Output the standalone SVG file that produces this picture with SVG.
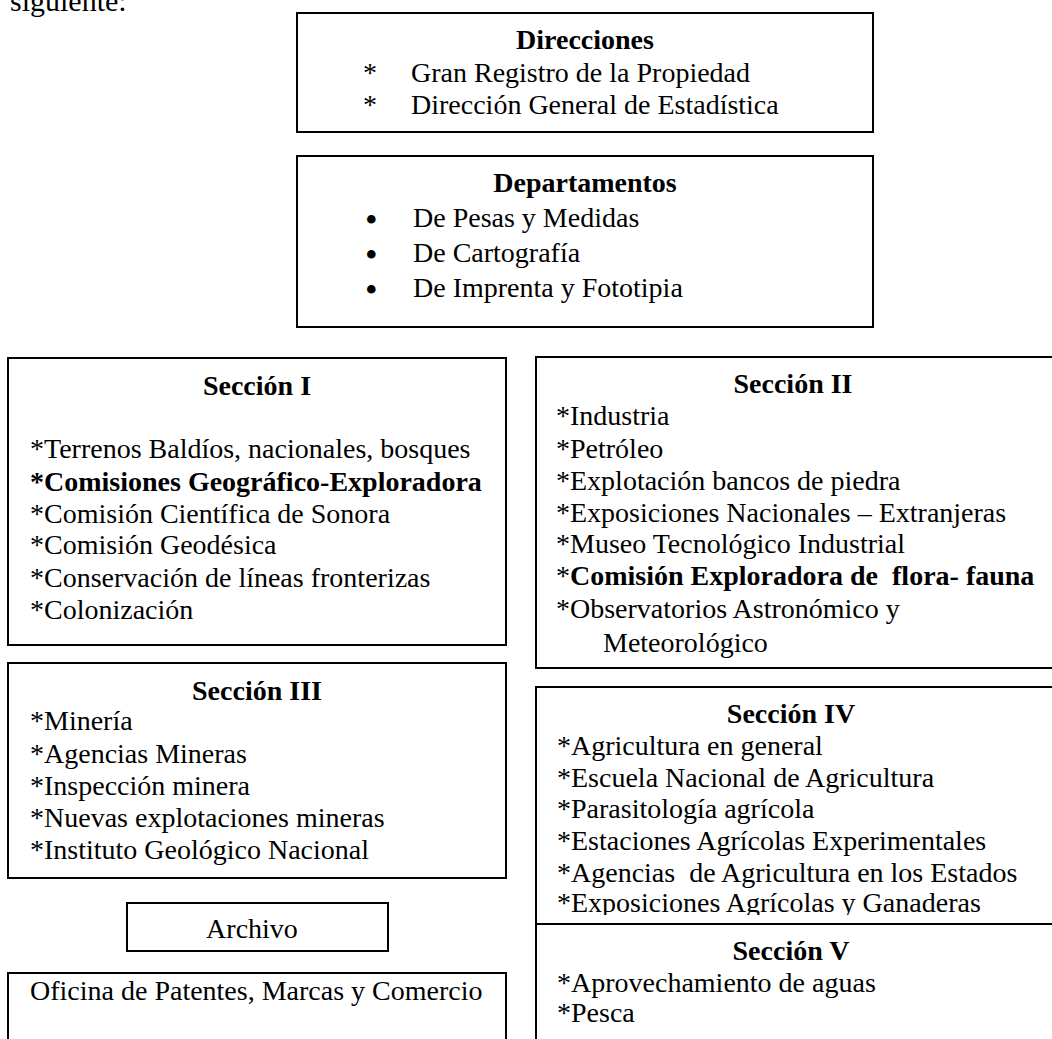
<svg xmlns="http://www.w3.org/2000/svg" width="1052" height="1039" viewBox="0 0 1052 1039">
<style>
text{font-family:"Liberation Serif","Times New Roman",serif;font-size:28px;fill:#000;white-space:pre}
.b{font-weight:bold}
.c{text-anchor:middle}
.bul{font-size:36px}
rect.box{fill:#fff;stroke:#000;stroke-width:2}
</style>
<defs>
<clipPath id="clipII"><rect x="536" y="357" width="530" height="301"/></clipPath>
<clipPath id="clipIV"><rect x="536" y="687" width="530" height="228"/></clipPath>
</defs>
<rect width="1052" height="1039" fill="#fff"/>
<text x="10" y="11" style="font-size:30px">siguiente:</text>

<g id="direcciones">
<rect class="box" x="297" y="13" width="576" height="119"/>
<text class="b c" x="585" y="49">Direcciones</text>
<text x="363" y="82">*<tspan x="411">Gran Registro de la Propiedad</tspan></text>
<text x="363" y="114">*<tspan x="411">Dirección General de Estadística</tspan></text>
</g>

<g id="departamentos">
<rect class="box" x="297" y="156" width="576" height="171"/>
<text class="b c" x="585" y="192">Departamentos</text>
<text x="365" y="227"><tspan class="bul" dy="5">•</tspan><tspan x="413" dy="-5">De Pesas y Medidas</tspan></text>
<text x="365" y="262"><tspan class="bul" dy="5">•</tspan><tspan x="413" dy="-5">De Cartografía</tspan></text>
<text x="365" y="297"><tspan class="bul" dy="5">•</tspan><tspan x="413" dy="-5">De Imprenta y Fototipia</tspan></text>
</g>

<g id="seccion-i">
<rect class="box" x="8" y="358" width="498" height="287"/>
<text class="b c" x="257" y="395">Sección I</text>
<text x="30" y="458">*Terrenos Baldíos, nacionales, bosques</text>
<text class="b" x="30" y="491">*Comisiones Geográfico-Exploradora</text>
<text x="30" y="523">*Comisión Científica de Sonora</text>
<text x="30" y="554">*Comisión Geodésica</text>
<text x="30" y="587">*Conservación de líneas fronterizas</text>
<text x="30" y="619">*Colonización</text>
</g>

<g id="seccion-ii">
<rect class="box" x="536" y="357" width="530" height="311"/>
<g clip-path="url(#clipII)">
<text class="b c" x="793" y="393">Sección II</text>
<text x="556" y="425">*Industria</text>
<text x="556" y="458">*Petróleo</text>
<text x="556" y="490">*Explotación bancos de piedra</text>
<text x="556" y="522">*Exposiciones Nacionales – Extranjeras</text>
<text x="556" y="553">*Museo Tecnológico Industrial</text>
<text x="556" y="585">*<tspan class="b">Comisión Exploradora de  flora- fauna</tspan></text>
<text x="556" y="618">*Observatorios Astronómico y</text>
<text x="603" y="652">Meteorológico</text>
</g>
</g>

<g id="seccion-iii">
<rect class="box" x="8" y="663" width="498" height="215"/>
<text class="b c" x="257" y="700">Sección III</text>
<text x="30" y="730">*Minería</text>
<text x="30" y="763">*Agencias Mineras</text>
<text x="30" y="795">*Inspección minera</text>
<text x="30" y="827">*Nuevas explotaciones mineras</text>
<text x="30" y="859">*Instituto Geológico Nacional</text>
</g>

<g id="seccion-iv">
<rect class="box" x="536" y="687" width="530" height="237"/>
<g clip-path="url(#clipIV)">
<text class="b c" x="791" y="723">Sección IV</text>
<text x="557" y="755">*Agricultura en general</text>
<text x="557" y="787">*Escuela Nacional de Agricultura</text>
<text x="557" y="818">*Parasitología agrícola</text>
<text x="557" y="850">*Estaciones Agrícolas Experimentales</text>
<text x="557" y="882">*Agencias  de Agricultura en los Estados</text>
<text x="557" y="912">*Exposiciones Agrícolas y Ganaderas</text>
</g>
</g>

<g id="seccion-v">
<rect class="box" x="536" y="924" width="530" height="130"/>
<text class="b c" x="791" y="960">Sección V</text>
<text x="557" y="992">*Aprovechamiento de aguas</text>
<text x="557" y="1022">*Pesca</text>
</g>

<g id="archivo">
<rect class="box" x="127" y="903" width="261" height="48"/>
<text class="c" x="252" y="938">Archivo</text>
</g>

<g id="oficina">
<rect class="box" x="8" y="973" width="498" height="80"/>
<text x="30" y="1000">Oficina de Patentes, Marcas y Comercio</text>
</g>

<g id="connectors"/>
</svg>
